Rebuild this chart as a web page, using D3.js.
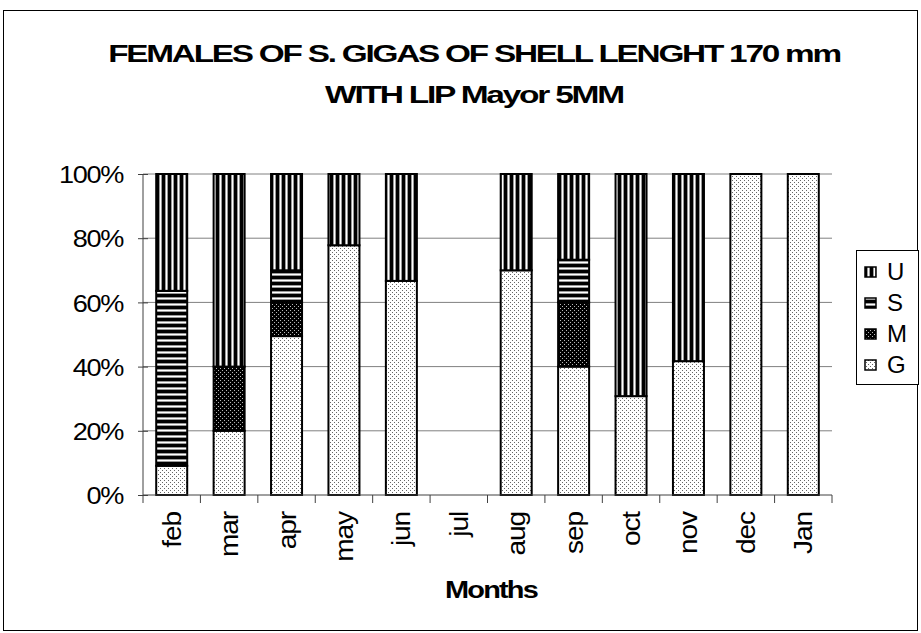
<!DOCTYPE html>
<html><head><meta charset="utf-8">
<script src="https://cdn.jsdelivr.net/npm/d3@7"></script>
<style>body{margin:0;background:#fff}svg{display:block;font-family:"Liberation Sans",Arial,sans-serif}</style>
</head><body><svg id="c" width="921" height="633"></svg>
<script>
const months = ["feb","mar","apr","may","jun","jul","aug","sep","oct","nov","dec","Jan"];
const G = [9.1,20,49.5,77.8,66.7,0,70,40,30.8,41.7,100,100];
const M = [0,20,10.5,0,0,0,0,20,0,0,0,0];
const S = [54.5,0,10,0,0,0,0,13.3,0,0,0,0];
const U = [36.4,60,30,22.2,33.3,0,30,26.7,69.2,58.3,0,0];
const yTicks = [0,20,40,60,80,100];
const legendKeys = ["U","S","M","G"];
const titleLines = ["FEMALES OF S. GIGAS OF SHELL LENGHT 170 mm","WITH LIP Mayor 5MM"];
const xTitle = "Months";

const svg = d3.select("#c");
// horizontally stretch a text node (with tight letter-spacing) to a target width
function widthOf(node){ return node.getComputedTextLength(); }
const defs = svg.append("defs");
let p = defs.append("pattern").attr("id","pG").attr("patternUnits","userSpaceOnUse").attr("width",4).attr("height",4);
p.append("rect").attr("width",4).attr("height",4).attr("fill","#fff");
p.append("rect").attr("x",0).attr("y",0).attr("width",1).attr("height",1).attr("fill","#666");
p.append("rect").attr("x",2).attr("y",2).attr("width",1).attr("height",1).attr("fill","#666");
p = defs.append("pattern").attr("id","pM").attr("patternUnits","userSpaceOnUse").attr("width",4).attr("height",4);
p.append("rect").attr("width",4).attr("height",4).attr("fill","#000");
p.append("rect").attr("x",0).attr("y",0).attr("width",1).attr("height",1).attr("fill","#bbb");
p.append("rect").attr("x",2).attr("y",2).attr("width",1).attr("height",1).attr("fill","#bbb");
p = defs.append("pattern").attr("id","pS").attr("patternUnits","userSpaceOnUse").attr("width",6).attr("height",6);
p.append("rect").attr("width",6).attr("height",6).attr("fill","#fff");
p.append("rect").attr("y",0).attr("width",6).attr("height",3).attr("fill","#000");
p.append("rect").attr("y",3).attr("width",6).attr("height",1).attr("fill","#999");
p.append("rect").attr("y",5).attr("width",6).attr("height",1).attr("fill","#999");
p = defs.append("pattern").attr("id","pU").attr("patternUnits","userSpaceOnUse").attr("width",6).attr("height",6);
p.append("rect").attr("width",6).attr("height",6).attr("fill","#fff");
p.append("rect").attr("x",0).attr("width",3).attr("height",6).attr("fill","#000");
p.append("rect").attr("x",3).attr("width",1).attr("height",6).attr("fill","#999");
p.append("rect").attr("x",5).attr("width",1).attr("height",6).attr("fill","#999");
const fills = {G:"url(#pG)",M:"url(#pM)",S:"url(#pS)",U:"url(#pU)"};

svg.append("rect").attr("x",3.5).attr("y",10.5).attr("width",914).attr("height",620)
  .attr("fill","none").attr("stroke","#000").attr("stroke-width",1);

const L = 143, R = 832, T = 174, B = 495;
const x = d3.scaleBand().domain(months).range([L,R]).paddingInner(0.46).paddingOuter(0.23);
const y = d3.scaleLinear().domain([0,100]).range([B,T]);

svg.append("g").selectAll("line").data(yTicks.filter(d=>d>0)).join("line")
  .attr("x1",L).attr("x2",R).attr("y1",d=>y(d)).attr("y2",d=>y(d))
  .attr("stroke","#808080").attr("stroke-width",1);

const rows = months.map((m,i)=>({m,G:G[i],M:M[i],S:S[i],U:U[i]}));
const stack = d3.stack().keys(["G","M","S","U"])(rows);
const gb = svg.append("g");
stack.forEach(layer=>{
  gb.append("g").selectAll("rect").data(layer.filter(d=>d[1]-d[0]>0)).join("rect")
    .attr("x",d=>x(d.data.m)).attr("width",x.bandwidth())
    .attr("y",d=>y(d[1])).attr("height",d=>y(d[0])-y(d[1]))
    .attr("fill",fills[layer.key]).attr("stroke","#000").attr("stroke-width",2);
});

// y axis
const ya = svg.append("g").attr("transform",`translate(${L},0)`)
  .call(d3.axisLeft(y).tickValues(yTicks).tickFormat(d=>d+"%").tickSize(5).tickPadding(14));
ya.select(".domain").attr("stroke","#404040").attr("d",`M0,${T}V${B}`);
ya.selectAll(".tick line").attr("stroke","#404040").attr("x1",5).attr("x2",-5);
const yt = ya.selectAll("text").attr("font-size",24).attr("fill","#000")
  .attr("font-family","Liberation Sans, Arial").attr("letter-spacing",-1.2).attr("dy","0.36em");
let k100 = 1;
yt.filter(d=>d===100).each(function(){ k100 = 64/widthOf(this); });
yt.attr("x",0).attr("transform",`translate(-20,0) scale(${k100},1)`);

// x axis
const xg = svg.append("g");
xg.append("line").attr("x1",L).attr("x2",R).attr("y1",B).attr("y2",B).attr("stroke","#404040");
const bounds = d3.range(months.length+1).map(i=>L + i*x.step());
xg.selectAll("line.t").data(bounds).join("line").attr("class","t")
  .attr("x1",d=>d).attr("x2",d=>d).attr("y1",B).attr("y2",B+8).attr("stroke","#404040");
const xl = xg.selectAll("text").data(months).join("text")
  .attr("text-anchor","end").attr("font-size",25).attr("letter-spacing",-1).attr("fill","#000").text(d=>d);
let kx = 1;
xl.filter(d=>d==="mar").each(function(){ kx = 45/widthOf(this); });
xl.attr("transform",d=>`translate(${x(d)+x.bandwidth()/2+9},${B+17}) rotate(-90) scale(${kx},1)`);

// axis title
const xt = svg.append("text").attr("text-anchor","middle")
  .attr("font-size",24).attr("font-weight","bold").attr("letter-spacing",-1.5).text(xTitle);
const kt = 92/widthOf(xt.node());
xt.attr("transform",`translate(491,598) scale(${kt},1)`);

// title
const tl = [{t:titleLines[0],y:62,w:732},{t:titleLines[1],y:103,w:298}];
svg.append("g").selectAll("text").data(tl).join("text")
  .attr("text-anchor","middle").attr("font-size",24).attr("font-weight","bold")
  .attr("letter-spacing",-1.6).text(d=>d.t)
  .each(function(d){
    const k = d.w/widthOf(this);
    d3.select(this).attr("transform",`translate(474,${d.y}) scale(${k},1)`);
  });

// legend
const lg = svg.append("g");
lg.append("rect").attr("x",856.5).attr("y",250.5).attr("width",62).attr("height",134)
  .attr("fill","#fff").attr("stroke","#000");
const ly = d3.scalePoint().domain(legendKeys).range([271,364]);
legendKeys.forEach(k=>{
  lg.append("rect").attr("x",865).attr("y",ly(k)-4).attr("width",11).attr("height",10)
    .attr("fill",fills[k]).attr("stroke","#000").attr("stroke-width",1.5);
  lg.append("text").attr("x",887).attr("y",ly(k)+9).attr("font-size",24).attr("letter-spacing",-1).text(k);
});
</script></body></html>
